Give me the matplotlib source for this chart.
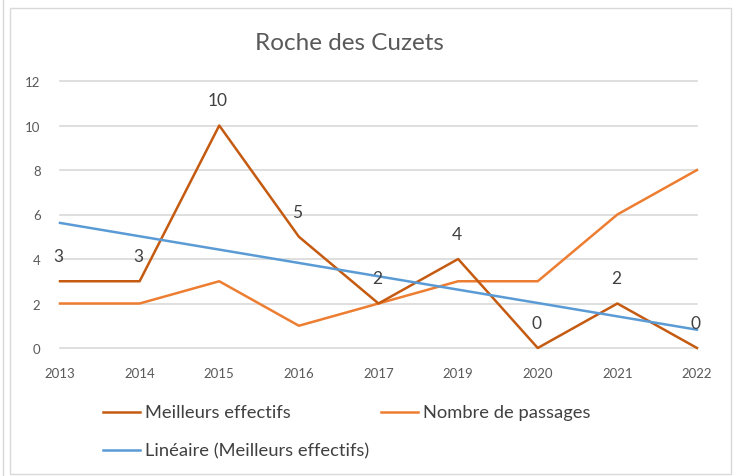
import numpy as np
import matplotlib
matplotlib.use("Agg")
import matplotlib.pyplot as plt
from matplotlib.lines import Line2D
from matplotlib.patches import Rectangle

years = ["2013", "2014", "2015", "2016", "2017", "2019", "2020", "2021", "2022"]
meilleurs = [3, 3, 10, 5, 2, 4, 0, 2, 0]
passages = [2, 2, 3, 1, 2, 3, 3, 6, 8]
yticks = [0, 2, 4, 6, 8, 10, 12]

plt.rcParams["font.family"] = ["Lato", "DejaVu Sans"]

c_meil = "#C55A11"
c_pass = "#ED7D31"
c_lin = "#5B9BD5"
grid_c = "#D9D9D9"
txt_c = "#595959"

W, H = 745, 477
fig = plt.figure(figsize=(W / 100, H / 100), dpi=100)
fig.patch.set_facecolor("white")

# chart frame
fig.add_artist(Rectangle((10 / W, 2 / H), 721 / W, 466 / H, transform=fig.transFigure,
                         fill=False, edgecolor=grid_c, linewidth=1.0))
fig.add_artist(Line2D([2.5 / W, 2.5 / W], [0, 1], transform=fig.transFigure,
                      color=grid_c, linewidth=1.0))

ax = fig.add_axes([60 / W, (H - 349) / H, 637 / W, 267 / H])
x = np.arange(len(years))

for v in yticks:
    ax.axhline(v, color=grid_c, linewidth=1.2, zorder=0, clip_on=False)

ax.plot(x, meilleurs, color=c_meil, linewidth=1.8, zorder=3, clip_on=False)
ax.plot(x, passages, color=c_pass, linewidth=1.8, zorder=2, clip_on=False)
coef = np.polyfit(x, meilleurs, 1)
trend = np.polyval(coef, x[[0, -1]])
ax.plot(x[[0, -1]], trend, color=c_lin, linewidth=1.8, zorder=4, clip_on=False)

for xi, v in zip(x, meilleurs):
    ax.annotate(str(v), (xi, v), xytext=(-1, 18), textcoords="offset points",
                ha="center", va="center", fontsize=12.5, color="#404040", zorder=5)

ax.set_xlim(0, len(years) - 1)
ax.set_ylim(0, 12)
ax.set_yticks(yticks)
ax.set_xticks(x)
ax.set_xticklabels(years)
ax.tick_params(axis="both", length=0, labelsize=9.5, labelcolor=txt_c)
ax.tick_params(axis="y", pad=14)
ax.tick_params(axis="x", pad=14)
for s in ax.spines.values():
    s.set_visible(False)
ax.set_facecolor("none")

fig.text(349 / W, 1 - 43 / H, "Roche des Cuzets", ha="center", va="center",
         fontsize=17.5, color=txt_c)

# legend
def leg(x0, y0, color, label):
    fig.add_artist(Line2D([x0 / W, (x0 + 37) / W], [1 - y0 / H, 1 - y0 / H],
                          transform=fig.transFigure, color=color, linewidth=1.8))
    fig.text((x0 + 42) / W, 1 - y0 / H, label, ha="left", va="center",
             fontsize=13.2, color="#404040")

leg(103, 413, c_meil, "Meilleurs effectifs")
leg(381, 413, c_pass, "Nombre de passages")
leg(103, 451, c_lin, "Linéaire (Meilleurs effectifs)")

fig.savefig("out.png", dpi=100, facecolor="white")
